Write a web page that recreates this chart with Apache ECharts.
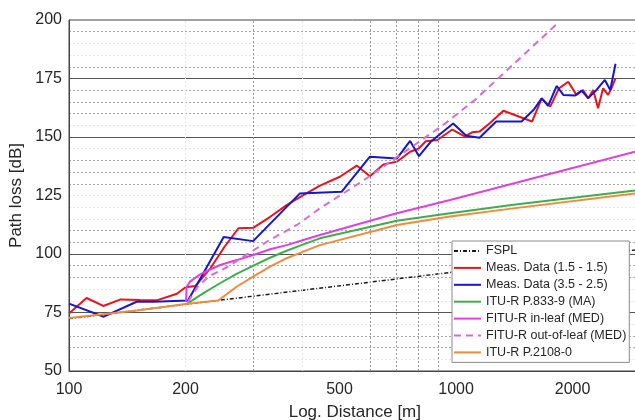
<!DOCTYPE html>
<html><head><meta charset="utf-8">
<script src="https://cdn.jsdelivr.net/npm/echarts@6/dist/echarts.min.js"></script>
<style>html,body{margin:0;padding:0;background:#fff}#c{width:635px;height:420px}</style>
</head><body><div id="c"></div>
<script>
// ---- tick labels ----
const xTickValues = [100, 200, 500, 1000, 2000];
const xMinorGrid = [300, 600, 700, 800, 900];
const xFaintGrid = [200, 400];

// ---- series data (distance [m], path loss [dB]) ----
const fsplDist = [100, 200, 500, 1000, 2000, 3000];
const fsplLoss = [72.4, 78.5, 86.4, 92.4, 98.5, 102.0];

const meas1Dist = [100, 111, 122.6, 136, 152.6, 168.5, 190, 200, 212, 231, 252, 274, 299, 331, 365, 403, 445, 501, 554, 599, 649, 703, 761, 800, 835, 895, 978, 1053, 1100, 1150, 1224, 1325, 1572, 1665, 1751, 1845, 1949, 2047, 2129, 2195, 2261, 2328, 2399, 2471, 2520, 2583];
const meas1Loss = [74.6, 81.2, 77.8, 80.6, 80.3, 80.2, 83, 85.8, 86.3, 93.5, 103, 111, 111.2, 115.9, 120.9, 125.2, 129.2, 133, 137.8, 133.2, 138.3, 139.4, 143.7, 145, 148.2, 148.7, 153.2, 150.3, 152, 152.3, 156, 161.2, 156.6, 166.5, 163, 170.8, 173.6, 168, 170.1, 166.5, 170.1, 162.3, 170.8, 168, 170.8, 175.1];

const meas2Dist = [100, 123, 149.5, 165, 203, 251, 299, 395, 506, 599, 703, 761, 802, 863, 983, 1063, 1150, 1270, 1477, 1585, 1665, 1729, 1820, 1893, 2027, 2110, 2195, 2306, 2424, 2503, 2583];
const meas2Loss = [78.8, 73.2, 79.6, 79.6, 80.1, 107.3, 105.5, 125.9, 126.6, 141.6, 140.8, 148.3, 141.8, 148.2, 155.8, 150.5, 149.7, 156.6, 156.6, 161.5, 166.5, 163.3, 171.8, 168, 167.7, 169.8, 166.6, 170.1, 174.4, 170.1, 181.3];

const p833Dist = [200, 203, 222, 245.5, 271, 299.5, 330.6, 365, 403, 445, 703, 965, 1406, 2900, 3000];
const p833Loss = [78.7, 79, 83.2, 87.5, 91.5, 95, 98.4, 101.4, 104.1, 106.7, 114.2, 117.4, 121, 127.1, 127.4];

const inLeafDist = [200.6, 201.4, 205.4, 213.8, 222.3, 245.6, 271.3, 299.4, 330.7, 365, 403, 445, 703, 965, 2900, 3000];
const inLeafLoss = [79.6, 86, 88.2, 90.3, 92, 95.3, 97.4, 99.6, 102, 103.8, 106, 108.1, 117.4, 123.1, 143.7, 144.3];

const outLeafDist = [203, 215, 230, 255.6, 330, 388, 445, 570, 924, 1118, 1820];
const outLeafLoss = [79.6, 86, 90.5, 94.3, 106, 112.4, 119.5, 130.9, 155, 165.8, 198.2];

const p2108Dist = [100, 150, 200, 243, 271, 299, 330.7, 365, 403, 445, 703, 965, 1406, 2900, 3000];
const p2108Loss = [72.6, 75.9, 78.6, 80.1, 86, 90.3, 94.6, 98.2, 101, 103.8, 112.4, 116, 119.5, 125.9, 126.2];

const names = ['FSPL', 'Meas. Data (1.5 - 1.5)', 'Meas. Data (3.5 - 2.5)', 'ITU-R P.833-9 (MA)', 'FITU-R in-leaf (MED)', 'FITU-R out-of-leaf (MED)', 'ITU-R P.2108-0'];

const pairs = (xs, ys) => xs.map((x, i) => [x, ys[i]]);

// minor horizontal grid colours (50..200 step 5)
const D = '#a8a8a8', F = '#e6e6e6', N = 'rgba(0,0,0,0)';
const minorColors = [N, F, D, D, F, N, F, F, D, D, N, D, D, F, F, F, D, D, D, F, N, F, D, D, D, N, D, F, F, D, N];
const majorColors = [N, '#555', '#555', N, '#555', '#555', N];

const FONT = 'Liberation Sans, Arial, sans-serif';

function lineSeries(name, xs, ys, color, width, type, z) {
  return {
    name, type: 'line', data: pairs(xs, ys), showSymbol: false, symbol: 'none',
    xAxisIndex: 0, yAxisIndex: 0, z: z, animation: false,
    lineStyle: { color, width, type: type || 'solid' }, itemStyle: { color }
  };
}

const chart = echarts.init(document.getElementById('c'), null, { renderer: 'canvas' });
chart.setOption({
  backgroundColor: '#fff',
  animation: false,
  grid: { left: 69, top: 20, right: -5.7, bottom: 49, containLabel: false, outerBoundsMode: 'none', show: true, borderColor: '#444', borderWidth: 1, backgroundColor: '#fff' },
  xAxis: {
    type: 'log', logBase: 10, min: 100, max: 3000,
    name: 'Log. Distance [m]', nameLocation: 'middle', nameGap: 33,
    nameTextStyle: { fontFamily: FONT, fontSize: 17, color: '#262626' },
    axisLine: { show: true, lineStyle: { color: '#444', width: 1 } },
    axisTick: { show: false },
    splitLine: { show: false },
    minorSplitLine: { show: false },
    axisLabel: { customValues: xTickValues, fontFamily: FONT, fontSize: 16, color: '#262626', margin: 11, formatter: v => String(Math.round(v)) }
  },
  yAxis: [{
    type: 'value', min: 50, max: 200, interval: 25,
    name: 'Path loss [dB]', nameLocation: 'middle', nameGap: 33,
    nameTextStyle: { fontFamily: FONT, fontSize: 17, color: '#262626' },
    axisLine: { show: true, lineStyle: { color: '#444', width: 1 } },
    axisTick: { show: false },
    axisLabel: { fontFamily: FONT, fontSize: 16, color: '#262626', margin: 7 },
    splitLine: { show: true, lineStyle: { color: majorColors, width: 1.2 } }
  }, {
    type: 'value', min: 50, max: 200, interval: 5, position: 'left',
    axisLine: { show: false }, axisTick: { show: false }, axisLabel: { show: false },
    splitLine: { show: true, lineStyle: { color: minorColors, width: 1, type: [2, 2] } }
  }],
  legend: {
    data: names, orient: 'vertical', left: 452, top: 241,
    padding: [3, 3, 3, 1], itemGap: 2.9, itemWidth: 27, itemHeight: 14,
    itemStyle: { opacity: 0 },
    backgroundColor: '#fff', borderColor: '#8a8a8a', borderWidth: 1,
    textStyle: { fontFamily: FONT, fontSize: 12.5, color: '#262626', lineHeight: 14 },
    z: 10
  },
  series: [
    {
      name: 'grid', type: 'line', data: [], silent: true, z: 1,
      markLine: {
        silent: true, symbol: 'none', label: { show: false }, animation: false,
        data: xMinorGrid.map(v => ({ xAxis: v, lineStyle: { type: [2, 2], color: '#9a9a9a', width: 1 } }))
          .concat(xFaintGrid.map(v => ({ xAxis: v, lineStyle: { type: [2, 2], color: '#e6e6e6', width: 1 } })))
      }
    },
    lineSeries(names[0], fsplDist, fsplLoss, '#1a1a1a', 1.5, [4, 2, 1, 2], 3),
    lineSeries(names[1], meas1Dist, meas1Loss, '#e8141c', 2, 'solid', 4),
    lineSeries(names[2], meas2Dist, meas2Loss, '#1616d0', 2, 'solid', 5),
    lineSeries(names[3], p833Dist, p833Loss, '#3fae49', 2, 'solid', 6),
    lineSeries(names[4], inLeafDist, inLeafLoss, '#e040dc', 2, 'solid', 6),
    lineSeries(names[5], outLeafDist, outLeafLoss, '#d66ad8', 2, [7, 5], 6),
    lineSeries(names[6], p2108Dist, p2108Loss, '#f08a3c', 2, 'solid', 7)
  ]
});
</script>
</body></html>
